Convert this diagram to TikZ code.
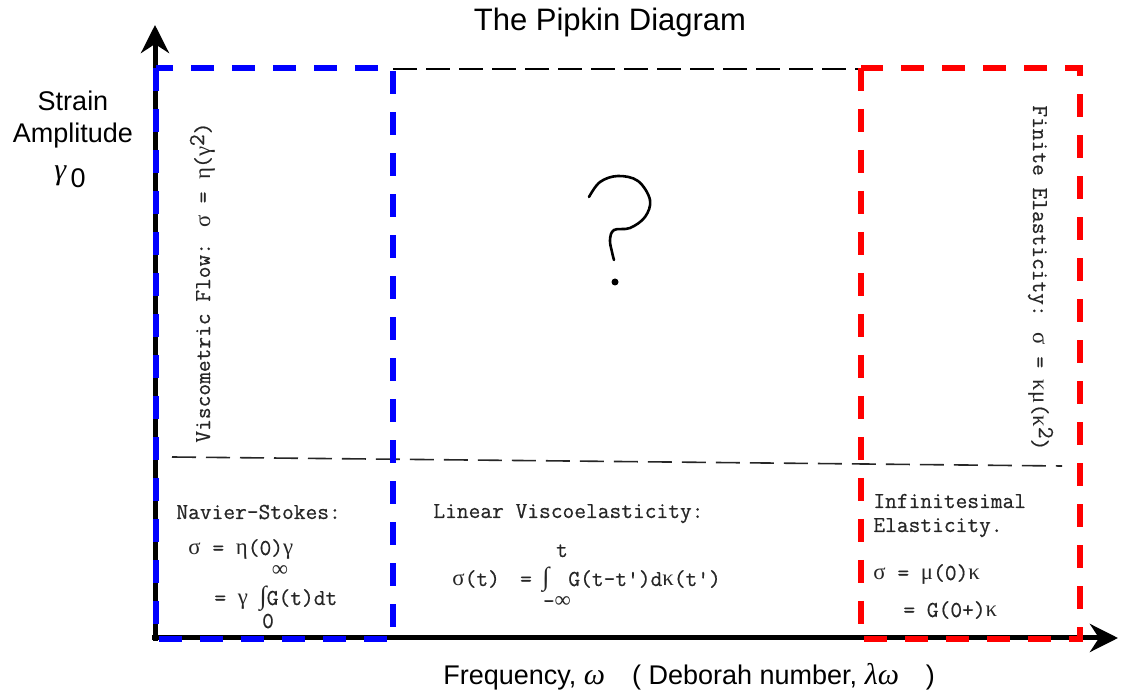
\documentclass[tikz,border=0pt]{standalone}
\usepackage{fontspec}
\setmainfont{Liberation Sans}
\newfontfamily\srf{Liberation Serif}
\newfontfamily\twf{Latin Modern Mono}[FakeBold=0.5]
\newcommand\gk[1]{{\srf #1}}
\usetikzlibrary{arrows.meta}
\begin{document}
\begin{tikzpicture}[x=0.5pt,y=-0.5pt,
  tw/.style={font=\twf\fontsize{11.4}{13}\selectfont, text=black!85, inner sep=0pt},
  lbl/.style={font=\fontsize{13.5}{16}\selectfont, inner sep=0pt},
  axisline/.style={line width=2.5pt, -{Stealth[length=14pt,width=14pt,inset=4.5pt]}},
  bluebox/.style={draw=blue, line width=3pt, dash pattern=on 11.5pt off 9pt},
  redbox/.style={draw=red, line width=3pt, dash pattern=on 11.5pt off 9pt},
  topdash/.style={draw=black, line width=1pt, dash pattern=on 12pt off 4.5pt},
  middash/.style={draw=black!85, line width=0.8pt, dash pattern=on 12pt off 5pt}]
\useasboundingbox (0,0) rectangle (1130,694);
\fill[white] (0,0) rectangle (1130,694);

% coordinates
\coordinate (O) at (155,638);
\coordinate (ytip) at (155,25);
\coordinate (xtip) at (1118,638);
\coordinate (ml) at (172,457);
\coordinate (mr) at (1062,466);
\coordinate (tl) at (393,69);
\coordinate (tr) at (861,69);

% middle and top dashed lines
\draw[middash] (ml) -- (mr);
\draw[topdash] (tl) -- (tr);

% axes
\draw[axisline] (155,641) -- (ytip);
\draw[axisline] (152,638) -- (xtip);

% coloured boxes
\draw[bluebox] (156,68) rectangle (393,639);
\draw[redbox] (861,68) rectangle (1080,639);

% titles and axis labels
\node[lbl, font=\fontsize{15.5}{18}\selectfont, anchor=base] (title) at (610,31) {The Pipkin Diagram};
\node[lbl, anchor=base] (strain) at (73,111) {Strain};
\node[lbl, anchor=base] (ampl) at (73,143) {Amplitude};
\node[lbl, anchor=base] (gam) at (70,180) {{\srf\itshape\fontsize{15}{18}\selectfont γ}\,\raisebox{-.55ex}{0}};
\node[lbl, anchor=base west] (freq) at (443,684) {Frequency, {\srf\itshape\fontsize{15}{18}\selectfont ω}\quad( Deborah number, {\srf\itshape\fontsize{15}{18}\selectfont λω}\quad)};

% rotated texts
\node[tw, rotate=90, anchor=base west] (visc) at (210,443) {Viscometric Flow: \gk{σ} = \gk{η}(\gk{γ}\raisebox{.6ex}{2})};
\node[tw, rotate=-90, anchor=base west] (fin) at (1033,105) {Finite Elasticity: \gk{σ} = \gk{κμ}(\gk{κ}\raisebox{.6ex}{2})};

% Navier-Stokes
\node[tw, anchor=base west] (ns1) at (176,519) {Navier-Stokes:};
\node[tw, anchor=base west] (ns2) at (188,555) {\gk{σ} = \gk{η}(0)\gk{γ}};
\node[tw, anchor=base] (ns3) at (280,577) {\gk{∞}};
\node[tw, anchor=base west] (ns4) at (214,605) {= \gk{γ} {\srf\fontsize{13}{14}\selectfont ∫}G(t)dt};
\node[tw, anchor=base] (ns5) at (268,628) {0};

% Linear viscoelasticity
\node[tw, anchor=base west] (lv1) at (433,518) {Linear Viscoelasticity:};
\node[tw, anchor=base] (lv2) at (562,557) {t};
\node[tw, anchor=base west] (lv3) at (452,586) {\gk{σ}(t)};
\node[tw, anchor=base] (lv4) at (526,586) {=};
\node[tw, anchor=base] (lv5) at (546,586) {{\srf\fontsize{13}{14}\selectfont ∫}};
\node[tw, anchor=base west] (lv6) at (568,586) {G(t-t')d\gk{κ}(t')};
\node[tw, anchor=base] (lv7) at (557,608) {-\gk{∞}};

% Infinitesimal elasticity
\node[tw, anchor=base west] (ie1) at (873,508) {Infinitesimal};
\node[tw, anchor=base west] (ie2) at (873,532) {Elasticity.};
\node[tw, anchor=base west] (ie3) at (873,580) {\gk{σ} = \gk{μ}(0)\gk{κ}};
\node[tw, anchor=base west] (ie4) at (903,617) {= G(0+)\gk{κ}};

% hand-drawn question mark
\draw[line width=1.3pt, line cap=round] plot[smooth, tension=0.6] coordinates
  {(589,197) (600,182) (618,176) (638,181) (650,200) (645,217) (630,228) (614,230) (610,240) (612,252) (614,260)};
\fill (615,282) circle (3.5);
\end{tikzpicture}
\end{document}
